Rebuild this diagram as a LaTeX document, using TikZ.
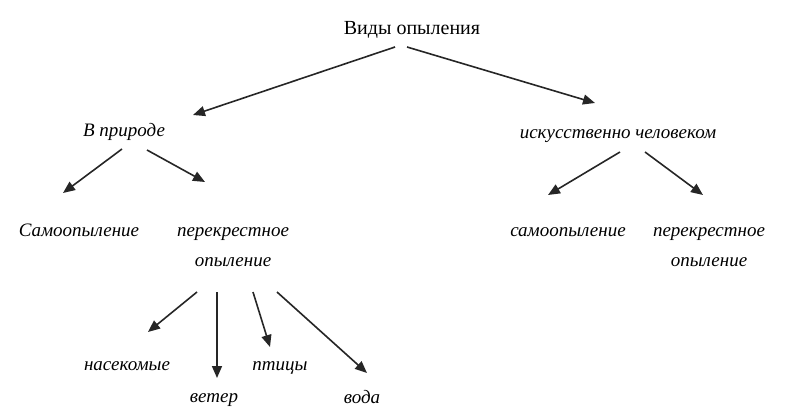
\documentclass[tikz,border=0pt]{standalone}
\usepackage{fontspec}
\setmainfont{Liberation Serif}
\usepackage{tikz}
\usetikzlibrary{arrows.meta}
\usetikzlibrary{calc}
\usetikzlibrary{positioning}

\begin{document}
\begin{tikzpicture}[x=1pt, y=-1pt]
\tikzset{
  titlenode/.style={inner sep=0pt, text height=14pt, text depth=4pt,
    font=\fontsize{20}{24}\selectfont},
  kind/.style={inner sep=0pt, text height=13pt, text depth=4pt,
    font=\fontsize{19}{30}\selectfont\itshape},
  kind2/.style={inner sep=0pt, align=center,
    font=\fontsize{19}{30}\selectfont\itshape},
  link/.style={-{Triangle[length=12pt, width=10pt]}, line width=1.6pt,
    black!85},
}

       \useasboundingbox (0, 0) rectangle (788, 420);

       \node [titlenode] (vidy) at (412, 30) {Виды опыления};

       \node [kind] (priroda) at (124, 132) {В природе};
       \node [kind] (chelovek) at (618, 134) {искусственно человеком};

       \node [kind] (samoL) at (79, 232) {Самоопыление};
       \node [kind2] (perekrL) at (233, 247) {перекрестное\\опыление};

       \node [kind] (samoR) at (568, 232) {самоопыление};
       \node [kind2] (perekrR) at (709, 247) {перекрестное\\опыление};

       \node [kind] (nasek) at (127, 366) {насекомые};
       \node [kind] (veter) at (214, 398) {ветер};
       \node [kind] (ptitsy) at (280, 366) {птицы};
       \node [kind] (voda) at (362, 399) {вода};

       \draw[link] ($(vidy) + (-17, 17)$) -- ($(priroda) + (69, -17)$);
       \draw[link] ($(vidy) + (-5, 17)$) -- ($(chelovek) + (-23, -31)$);

       \draw[link] ($(priroda) + (-2, 17)$) -- ($(samoL) + (-16, -39)$);
       \draw[link] ($(priroda) + (23, 18)$) -- ($(perekrL) + (-28, -65)$);

       \draw[link] ($(chelovek) + (2, 18)$) -- ($(samoR) + (-20, -37)$);
       \draw[link] ($(chelovek) + (27, 18)$) -- ($(perekrR) + (-6, -52)$);

       \draw[link] ($(perekrL) + (-36, 45)$) -- ($(nasek) + (21, -34)$);
       \draw[link] ($(perekrL) + (-16, 45)$) -- ($(veter) + (3, -20)$);
       \draw[link] ($(perekrL) + (20, 45)$) -- ($(ptitsy) + (-10, -19)$);
       \draw[link] ($(perekrL) + (44, 45)$) -- ($(voda) + (5, -26)$);

\end{tikzpicture}
\end{document}
